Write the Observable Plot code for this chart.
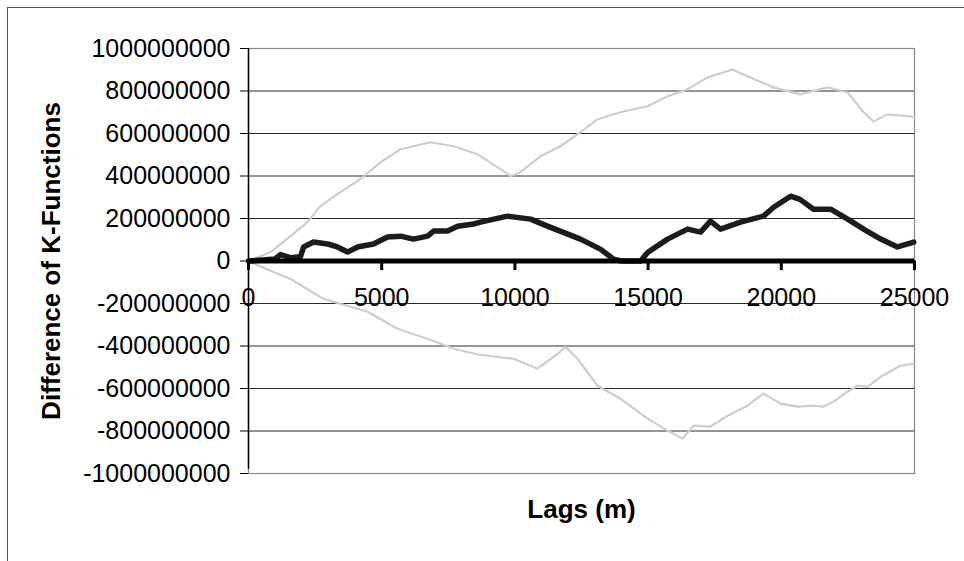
<!DOCTYPE html>
<html>
<head>
<meta charset="utf-8">
<script src="https://cdn.jsdelivr.net/npm/d3@7"></script>
<script src="https://cdn.jsdelivr.net/npm/@observablehq/plot@0.6"></script>
<style>
  html, body { margin: 0; padding: 0; background: #fff; }
  #wrap { position: relative; width: 964px; height: 561px; overflow: hidden; }
  #frameTop { position: absolute; left: 7px; top: 7px; width: 957px; height: 0; border-top: 1.5px solid #555; }
  #frameLeft { position: absolute; left: 7px; top: 7px; width: 0; height: 554px; border-left: 1.5px solid #555; }
  #chart { position: absolute; left: 0; top: 0; }
</style>
</head>
<body>
<div id="wrap">
  <div id="chart"></div>
  <div id="frameTop"></div>
  <div id="frameLeft"></div>
</div>
<script>
// Observed difference of K-functions (lag in m, value in millions)
const diffLag = [0, 500, 1000, 1200, 1600, 1950, 2070, 2440, 2970, 3340, 3720, 4090, 4690, 5220, 5710, 6190, 6720, 6950, 7470, 7850, 8450, 8710, 9720, 10590, 11220, 12460, 13210, 13700, 14000, 14720, 14980, 15730, 16480, 16970, 17340, 17720, 18470, 19330, 19710, 20350, 20700, 21210, 21850, 22490, 23090, 23730, 24360, 24970];
const diffVal = [0, 5, 10, 30, 15, 20, 66, 89, 80, 66, 42, 66, 80, 113, 117, 103, 117, 141, 141, 164, 174, 183, 211, 197, 164, 103, 56, 9, 0, 0, 40, 103, 150, 136, 188, 150, 183, 211, 253, 305, 290, 244, 244, 197, 150, 103, 66, 89];

// Upper envelope
const upperLag = [0, 830, 1580, 2210, 2700, 3450, 4200, 4960, 5710, 6830, 7700, 8600, 9460, 9840, 10210, 10960, 11710, 12460, 13100, 13960, 14980, 15730, 16480, 17230, 18170, 18730, 19710, 20720, 21740, 22490, 23090, 23460, 23990, 24850, 25000];
const upperVal = [0, 42, 117, 183, 258, 324, 385, 465, 526, 559, 540, 502, 432, 399, 418, 493, 540, 606, 667, 700, 728, 775, 808, 864, 901, 869, 817, 784, 817, 793, 700, 657, 690, 681, 675];

// Lower envelope
const lowerLag = [0, 940, 1580, 2820, 4470, 5590, 6720, 7700, 8600, 9950, 10850, 11600, 11900, 12350, 13100, 13960, 14980, 15730, 16290, 16710, 17340, 17980, 18730, 19330, 19970, 20610, 21210, 21590, 21960, 22490, 22860, 23240, 23730, 24470, 24970];
const lowerVal = [0, -52, -85, -178, -239, -319, -366, -413, -440, -460, -507, -437, -404, -460, -587, -648, -742, -798, -836, -775, -779, -728, -681, -624, -671, -685, -681, -685, -662, -615, -587, -592, -545, -493, -484];

const yTicks = [-1000000000, -800000000, -600000000, -400000000, -200000000, 0, 200000000, 400000000, 600000000, 800000000, 1000000000];
const xTicks = [0, 5000, 10000, 15000, 20000, 25000];
const yTitle = "Difference of K-Functions";
const xTitle = "Lags (m)";

const toRows = (lags, vals) => lags.map((l, i) => ({lag: l, v: vals[i] * 1e6}));
const diff = toRows(diffLag, diffVal);
const upper = toRows(upperLag, upperVal);
const lower = toRows(lowerLag, lowerVal);

const font = "'Liberation Sans', Arial, Helvetica, sans-serif";

const chart = Plot.plot({
  width: 964,
  height: 561,
  marginLeft: 248,
  marginRight: 50,
  marginTop: 48,
  marginBottom: 88,
  style: {fontFamily: font, background: "transparent", color: "#000"},
  x: {domain: [0, 25000], axis: null},
  y: {domain: [-1e9, 1e9], axis: null},
  marks: [
    Plot.ruleY(yTicks, {stroke: "#2a2a2a", strokeWidth: 1}),
    Plot.frame({stroke: "#888", strokeWidth: 1.2}),
    Plot.line(upper, {x: "lag", y: "v", stroke: "#cdcdcd", strokeWidth: 2.2}),
    Plot.line(lower, {x: "lag", y: "v", stroke: "#cdcdcd", strokeWidth: 2.2}),
    Plot.line(diff, {x: "lag", y: "v", stroke: "#1c1c1c", strokeWidth: 5.5, strokeLinejoin: "round"}),
    Plot.ruleX([0], {stroke: "#000", strokeWidth: 1.5, y1: -0.98e9, y2: 1e9}),
    Plot.ruleY([0], {stroke: "#000", strokeWidth: 5}),
    Plot.ruleX(xTicks, {x: d => d, y1: 0, y2: -4.5e7, stroke: "#000", strokeWidth: 3}),
    Plot.axisY(yTicks, {
      label: null, tickSize: 8, tickPadding: 10, fontSize: 25,
      tickFormat: d => String(d), stroke: "#000"
    }),
    Plot.text(xTicks, {x: d => d, y: 0, dy: 37, text: d => String(d), fontSize: 25, fill: "#000"}),
    Plot.text([yTitle], {frameAnchor: "left", textAnchor: "middle", dx: -197, rotate: -90, fontSize: 26, fontWeight: "bold", fill: "#000"}),
    Plot.text([xTitle], {frameAnchor: "bottom", dy: 44, fontSize: 26, fontWeight: "bold", fill: "#000"})
  ]
});
document.getElementById("chart").appendChild(chart);
</script>
</body>
</html>
